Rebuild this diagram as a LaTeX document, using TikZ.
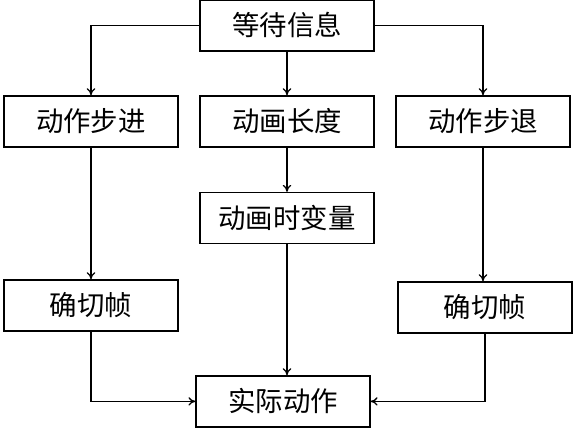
\documentclass[tikz,border=0pt]{standalone}
\usepackage{fontspec}
\newfontfamily\cjk{Noto Sans CJK SC}
\usepackage{tikz}
\usetikzlibrary{positioning, arrows.meta}

\begin{document}
\begin{tikzpicture}[
          bx/.style={rectangle, draw=black, line width=0.9pt, minimum width=4.35cm,
                     minimum height=1.275cm, align=center,
                     font=\cjk\fontsize{19.5}{22}\selectfont},
          arr/.style={-{To[length=5pt, width=6pt]}, draw=black, line width=0.9pt}
        ]
        \useasboundingbox (0,0) rectangle (14.4,10.825);

        \node[bx] (wait) at (7.175, 10.19) {等待信息};

        \node[bx] (fwd)  at (2.275, 7.79) {动作步进};
        \node[bx] (len)  at (7.175, 7.79) {动画长度};
        \node[bx] (back) at (12.075, 7.79) {动作步退};

        \node[bx] (tvar) at (7.175, 5.375) {动画时变量};

        \node[bx] (fl) at (2.275, 3.19) {确切帧};
        \node[bx] (fr) at (12.125, 3.14) {确切帧};

        \node[bx] (act) at (7.075, 0.79) {实际动作};

        \draw[arr] (wait.west) -| (fwd.north);
        \draw[arr] (wait) -- (len);
        \draw[arr] (wait.east) -| (back.north);
        \draw[arr] (len) -- (tvar);
        \draw[arr] (fwd) -- (fl);
        \draw[arr] (back.south) -- (back.south |- fr.north);
        \draw[arr] (tvar.south) -- (tvar.south |- act.north);
        \draw[arr] (fl.south) |- (act.west);
        \draw[arr] (fr.south) |- (act.east);
      \end{tikzpicture}
\end{document}
